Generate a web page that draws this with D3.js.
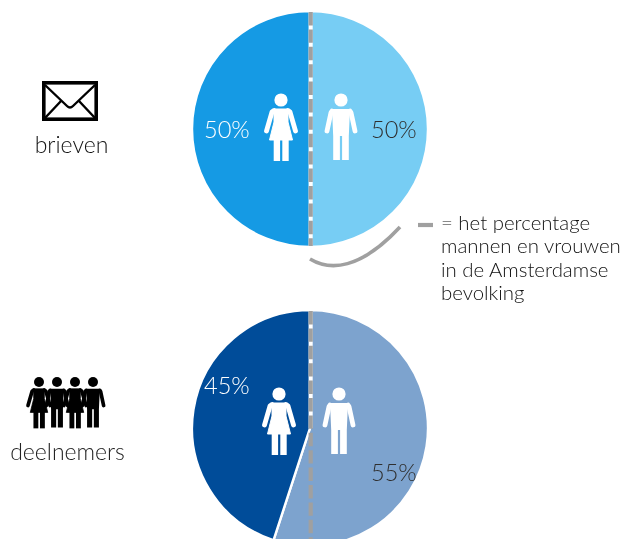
<!DOCTYPE html>
<html>
<head>
<style>
  body{
    margin: 0;
    background: white;
  }
  svg{
    display: block;
    filter: blur(0.45px);
  }
  text{
    font-family: Lato, sans-serif;
    font-weight: 300;
  }
</style>
</head>
<body>
  <svg id='svgVis'></svg>

<script src="https://cdn.jsdelivr.net/npm/d3@7"></script>
<script>

var width = 624,
    height = 539;

// values
var categories = ["brieven", "deelnemers"];
var genders = ["mannen", "vrouwen"];
var brieven = [50, 50];
var deelnemers = [55, 45];
var brievenColors = ["#77CDF4", "#159AE4"];
var deelnemersColors = ["#7DA3CE", "#004C99"];
var legendLines = ["= het percentage", "mannen en vrouwen", "in de Amsterdamse", "bevolking"];

var radius = 118,
    centerX = 310;

var svg = d3.select("#svgVis")
    .attr("width", width)
    .attr("height", height);

var pie = d3.pie().sort(null);
var arc = d3.arc().innerRadius(0).outerRadius(radius);

// figures are drawn from the centre of the head
function woman(g, color) {
  g.append("circle").attr("cy", 0).attr("r", 6.6).attr("fill", color);
  g.append("path")
    .attr("d", "M-7,9 L7,9 L7,22 L11.5,40 L-11.5,40 L-7,22 Z")
    .attr("fill", color).attr("stroke", color).attr("stroke-width", 1).attr("stroke-linejoin", "round");
  g.append("path")
    .attr("d", "M-7,10.5 L-9,12 L-14.5,31 M7,10.5 L9,12 L14.5,31")
    .attr("fill", "none").attr("stroke", color).attr("stroke-width", 4.8)
    .attr("stroke-linecap", "round").attr("stroke-linejoin", "round");
  g.append("rect").attr("x", -7.3).attr("y", 38).attr("width", 6.4).attr("height", 23).attr("fill", color);
  g.append("rect").attr("x", 1.3).attr("y", 38).attr("width", 6.4).attr("height", 23).attr("fill", color);
}

function man(g, color) {
  g.append("circle").attr("cy", 0).attr("r", 6.6).attr("fill", color);
  g.append("path")
    .attr("d", "M-9,9 L9,9 L7.8,36 L7.8,60 L1.1,60 L1.1,36 L-1.1,36 L-1.1,60 L-7.8,60 L-7.8,36 Z")
    .attr("fill", color);
  g.append("path")
    .attr("d", "M-9,11 L-10,12.5 L-14,31 M9,11 L10,12.5 L14,31")
    .attr("fill", "none").attr("stroke", color).attr("stroke-width", 4.8)
    .attr("stroke-linecap", "round").attr("stroke-linejoin", "round");
}

function drawPie(values, colors, cy, divideTo) {
  var g = svg.append("g")
    .attr("transform", "translate(" + centerX + "," + cy + ")");

  g.selectAll("path")
    .data(pie(values))
    .enter()
    .append("path")
    .attr("d", arc)
    .attr("fill", function(d, i) { return colors[i]; })
    .attr("stroke", "white")
    .attr("stroke-width", 2.4);

  // white gap behind the grey line
  g.append("line")
    .attr("x1", 0.7).attr("x2", 0.7)
    .attr("y1", -radius - 1).attr("y2", divideTo)
    .attr("stroke", "white").attr("stroke-width", 4);

  g.append("line")
    .attr("x1", 0.7).attr("x2", 0.7)
    .attr("y1", -radius + 1).attr("y2", radius - 1)
    .attr("stroke", "#A0A0A0").attr("stroke-width", 4.2)
    .attr("stroke-dasharray", "13.4 4");

  return g;
}

drawPie(brieven, brievenColors, 129, radius);
drawPie(deelnemers, deelnemersColors, 428, 0);

woman(svg.append("g").attr("transform", "translate(281,100)"), "white");
man(svg.append("g").attr("transform", "translate(341,100)"), "white");
woman(svg.append("g").attr("transform", "translate(279,394)"), "white");
man(svg.append("g").attr("transform", "translate(339,394)"), "white");

// percentage labels
function pct(x, y, value, color) {
  svg.append("text")
    .attr("x", x).attr("y", y)
    .attr("font-size", 23.6)
    .attr("fill", color)
    .text(value + "%");
}
pct(204, 138, brieven[1], "white");
pct(371, 138, brieven[0], "#2F2F2F");
pct(204, 394, deelnemers[1], "white");
pct(371, 481, deelnemers[0], "#2F2F2F");

// envelope
var env = svg.append("g").attr("transform", "translate(42,81)");
env.append("rect")
  .attr("x", 1.8).attr("y", 1.8).attr("width", 52.4).attr("height", 36.4)
  .attr("fill", "white").attr("stroke", "black").attr("stroke-width", 3.6);
env.append("path")
  .attr("d", "M3,4 L25,25 Q28,28 31,25 L53,4 M19,20 L3,37 M37,20 L53,37")
  .attr("fill", "none").attr("stroke", "black").attr("stroke-width", 2.4);

svg.append("text")
  .attr("x", 71.5).attr("y", 153)
  .attr("text-anchor", "middle")
  .attr("font-size", 23)
  .attr("fill", "#111")
  .text(categories[0]);

// row of people
[39, 57, 75, 93].forEach(function(x, i) {
  var g = svg.append("g").attr("transform", "translate(" + x + ",382) scale(0.76)");
  if (i % 2 == 0) { woman(g, "black"); } else { man(g, "black"); }
});

svg.append("text")
  .attr("x", 67.5).attr("y", 460)
  .attr("text-anchor", "middle")
  .attr("font-size", 23)
  .attr("fill", "#222")
  .text(categories[1]);

// legend
svg.append("path")
  .attr("d", "M310,259 C330,271 360,270 400,227")
  .attr("fill", "none").attr("stroke", "#A0A0A0").attr("stroke-width", 3.6);

svg.append("line")
  .attr("x1", 418).attr("x2", 433)
  .attr("y1", 225).attr("y2", 225)
  .attr("stroke", "#A0A0A0").attr("stroke-width", 4.2);

svg.selectAll(".legend")
  .data(legendLines)
  .enter()
  .append("text")
  .attr("class", "legend")
  .attr("x", 441)
  .attr("y", function(d, i) { return 230 + i * 23.4; })
  .attr("font-size", 20.4)
  .attr("fill", "#111")
  .text(function(d) { return d; });

</script>
</body>
</html>
